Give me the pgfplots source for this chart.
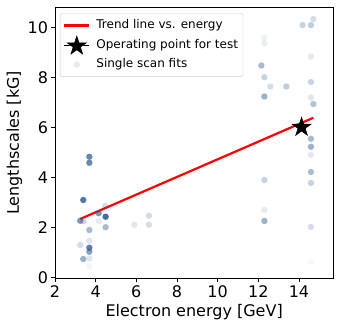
\documentclass[border=0pt]{standalone}
\usepackage{fontspec}
\setmainfont{DejaVu Sans}
\usepackage{pgfplots}
\usepackage{pgfplotstable}
\pgfplotsset{compat=1.18}
\definecolor{scat}{RGB}{40,85,140}
\pgfdeclareplotmark{fstar}{%
 \pgfpathmoveto{\pgfpointpolar{90}{\pgfplotmarksize}}%
 \pgfpathlineto{\pgfpointpolar{126}{0.382\pgfplotmarksize}}%
 \pgfpathlineto{\pgfpointpolar{162}{\pgfplotmarksize}}%
 \pgfpathlineto{\pgfpointpolar{198}{0.382\pgfplotmarksize}}%
 \pgfpathlineto{\pgfpointpolar{234}{\pgfplotmarksize}}%
 \pgfpathlineto{\pgfpointpolar{270}{0.382\pgfplotmarksize}}%
 \pgfpathlineto{\pgfpointpolar{306}{\pgfplotmarksize}}%
 \pgfpathlineto{\pgfpointpolar{342}{0.382\pgfplotmarksize}}%
 \pgfpathlineto{\pgfpointpolar{18}{\pgfplotmarksize}}%
 \pgfpathlineto{\pgfpointpolar{54}{0.382\pgfplotmarksize}}%
 \pgfpathclose
 \pgfusepathqfillstroke
}
\pgfplotsset{
 legline/.style={legend image code/.code={\draw[##1] (0pt,0pt) -- (25pt,0pt);}},
 legstar/.style={legend image code/.code={\draw[##1, mark repeat=2, mark phase=2] plot coordinates {(0pt,0pt) (12.5pt,0pt) (25pt,0pt)};}},
 legdot/.style={legend image code/.code={\draw[##1] plot coordinates {(12.5pt,0pt)};}},
}
\pgfplotstableread{
x y a
3.69 4.82 0.70
3.69 4.58 0.70
3.39 3.09 0.80
3.24 2.26 0.60
3.39 2.24 0.25
3.69 1.89 0.40
4.15 2.56 0.60
4.15 2.25 0.12
4.47 2.85 0.20
4.49 2.42 0.85
4.49 2.00 0.40
3.24 1.29 0.20
3.69 1.46 0.15
3.69 1.18 0.75
3.69 1.02 0.55
3.39 0.73 0.45
3.69 0.75 0.15
3.69 0.45 0.06
5.90 2.10 0.15
6.62 2.46 0.20
6.62 2.10 0.20
14.18 10.09 0.25
14.59 10.09 0.30
14.71 10.33 0.20
12.30 9.58 0.08
12.30 9.36 0.10
14.59 8.83 0.12
12.15 8.47 0.40
12.30 8.00 0.25
12.59 7.63 0.20
13.38 7.63 0.30
12.30 7.23 0.45
14.59 7.81 0.25
14.59 7.19 0.15
14.71 6.93 0.35
14.59 5.54 0.40
14.59 5.22 0.45
14.59 4.89 0.12
14.59 4.21 0.40
14.59 3.77 0.25
12.30 3.89 0.25
12.30 2.69 0.12
12.30 2.25 0.45
14.59 2.01 0.20
14.59 0.62 0.04
}\scans
\begin{document}
\begin{tikzpicture}
\begin{axis}[
 scale only axis, width=278.3pt, height=271.4pt,
 xmin=2, xmax=15.69, ymin=-0.06, ymax=10.8,
 xtick={2,4,...,14}, ytick={0,2,...,10},
 tick align=outside, tick pos=left, major tick length=3.5pt,
 tick style={black, line width=0.8pt},
 axis line style={black, line width=0.8pt},
 ticklabel style={font=\fontsize{16}{19}\selectfont},
 /pgf/number format/assume math mode=true,
 xlabel={Electron energy [GeV]}, ylabel={Lengthscales [kG]},
 every axis x label/.style={font=\fontsize{16}{19}\selectfont, at={([yshift=-38pt]axis description cs:0.5,0)}, anchor=base},
 every axis y label/.style={font=\fontsize{16}{19}\selectfont, at={([xshift=-36pt]axis description cs:0,0.5)}, rotate=90, anchor=base},
 legend cell align=left,
 legend style={at={(0,1)}, anchor=north west, xshift=5pt, yshift=-6pt,
   font=\fontsize{12}{14}\selectfont, draw=black!20, rounded corners=2pt, fill=white,
   inner xsep=3pt, inner ysep=4pt, row sep=2.5pt, column sep=4pt,
   nodes={inner sep=2pt, text height=9pt, text depth=3pt}},
]
\addplot[scatter, only marks, mark=*, mark size=3.2pt, forget plot,
  visualization depends on={\thisrow{a}\as\myalpha},
  scatter/@pre marker code/.code={\scope[fill=scat, draw=scat, draw opacity=0, fill opacity=\myalpha]},
  scatter/@post marker code/.code={\endscope},
] table[x=x, y=y] {\scans};
\addplot[red, line width=2.2pt, legline]
  coordinates {(3.24,2.33) (14.71,6.38)};
\addlegendentry{Trend line vs. energy}
\addplot[black, line width=1pt, mark=fstar, mark size=10pt,
  mark options={solid, fill=black, line width=0.5pt}, legstar]
  coordinates {(14.13,6.0)};
\addlegendentry{Operating point for test}
\addlegendimage{only marks, mark=*, mark size=3.2pt, mark options={fill=scat, fill opacity=0.12, draw opacity=0}, legdot}
\addlegendentry{Single scan fits}
\end{axis}
\pgfresetboundingbox
\path[use as bounding box] ([xshift=-55pt, yshift=-48.3pt]current axis.south west) rectangle ([xshift=5.7pt, yshift=7.3pt]current axis.north east);
\end{tikzpicture}
\end{document}
